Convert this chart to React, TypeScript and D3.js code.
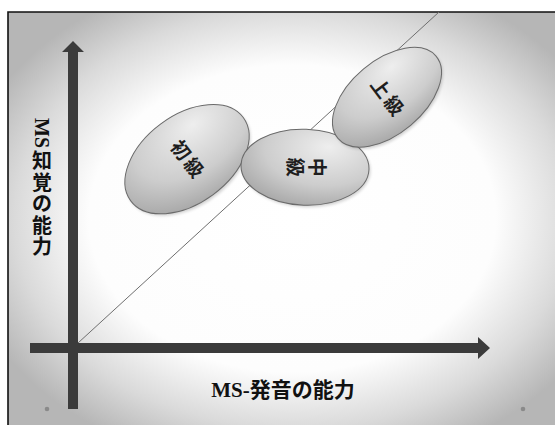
import React from "react";
import * as d3 from "d3";

// Skill levels shown as ovals on the perception / pronunciation plane
const levels = ["初級", "中級", "上級"];
const centerX = [28.5, 58.0, 78.5];
const centerY = [47.2, 45.2, 62.7];
const radiusMajor = [17.5, 16.0, 16.0];
const radiusMinor = [11.0, 9.5, 9.2];
const tiltDeg = [36.5, -2, 40];
const labelTurn = [53, 90, 53];
const labelVertical = [false, true, false];

// Reference diagonal (equal ability on both axes)
const diagX = [1.25, 91.5];
const diagY = [1.25, 84];

const xTitle = "MS-発音の能力";
const yTitleLatin = "MS";
const yTitleChars = ["知", "覚", "の", "能", "力"];

const W = 555;
const H = 425;
const FONT = "'Liberation Serif', 'Noto Sans CJK JP', serif";

export default function App() {
  // 4 px per unit on both axes so the ovals keep their shape
  const x = d3.scaleLinear().domain([0, 100]).range([73, 473]);
  const y = d3.scaleLinear().domain([0, 75]).range([348, 48]);
  const k = x(1) - x(0);

  const diagLine = d3
    .line<number>()
    .x((_, i) => x(diagX[i]))
    .y((_, i) => y(diagY[i]));

  const axisColor = "#3b3b3b";
  const x0 = x(0);
  const y0 = y(0);

  // vertical arrow
  const vArrow = [
    [x0 - 5, 409],
    [x0 - 5, 52],
    [x0 - 11, 52],
    [x0, 41],
    [x0 + 11, 52],
    [x0 + 5, 52],
    [x0 + 5, 409],
  ];
  // horizontal arrow
  const hArrow = [
    [30, y0 - 5],
    [478, y0 - 5],
    [478, y0 - 11],
    [490, y0],
    [478, y0 + 11],
    [478, y0 + 5],
    [30, y0 + 5],
  ];
  const poly = (pts: number[][]) => "M" + pts.map((p) => p.join(",")).join("L") + "Z";

  return (
    <svg
      width={W}
      height={H}
      style={{ position: "absolute", left: 0, top: 0, background: "#fff" }}
    >
      <defs>
        <radialGradient id="vignette" cx="0.52" cy="0.5" r="0.62">
          <stop offset="0" stopColor="#ffffff" />
          <stop offset="0.6" stopColor="#fdfdfd" />
          <stop offset="0.82" stopColor="#dadada" />
          <stop offset="1" stopColor="#b6b6b6" />
        </radialGradient>
        <radialGradient id="oval" cx="0.62" cy="0.3" r="0.85" fx="0.68" fy="0.22">
          <stop offset="0" stopColor="#eeeeee" />
          <stop offset="0.55" stopColor="#cdcdcd" />
          <stop offset="1" stopColor="#9c9c9c" />
        </radialGradient>
        <filter id="soft" x="-20%" y="-20%" width="140%" height="140%">
          <feGaussianBlur stdDeviation="1.5" />
        </filter>
      </defs>

      <rect x={8} y={12} width={W - 8} height={H - 12} fill="url(#vignette)" />
      <path d={`M8,${H}V12H${W}`} fill="none" stroke="#111" strokeWidth={1.6} />

      <path d={diagLine([0, 1]) || ""} fill="none" stroke="#6e6e6e" strokeWidth={1} />

      <path d={poly(vArrow)} fill={axisColor} />
      <path d={poly(hArrow)} fill={axisColor} />

      {levels.map((name, i) => {
        const cx = x(centerX[i]);
        const cy = y(centerY[i]);
        const chars = Array.from(name);
        const step = 22;
        return (
          <g key={name} transform={`translate(${cx},${cy})`}>
            <ellipse
              rx={radiusMajor[i] * k}
              ry={radiusMinor[i] * k}
              transform={`translate(1.5,2) rotate(${-tiltDeg[i]})`}
              fill="#000"
              opacity={0.18}
              filter="url(#soft)"
            />
            <ellipse
              rx={radiusMajor[i] * k}
              ry={radiusMinor[i] * k}
              transform={`rotate(${-tiltDeg[i]})`}
              fill="url(#oval)"
              stroke="#6a6a6a"
              strokeWidth={1}
            />
            <g transform={`rotate(${labelTurn[i]})`}>
              {chars.map((c, j) => {
                const off = (j - (chars.length - 1) / 2) * step;
                return (
                  <text
                    key={j}
                    x={labelVertical[i] ? 0 : off}
                    y={labelVertical[i] ? off : 0}
                    textAnchor="middle"
                    dominantBaseline="central"
                    fontFamily={FONT}
                    fontWeight={700}
                    fontSize={19}
                    fill="#1e1e1e"
                  >
                    {c}
                  </text>
                );
              })}
            </g>
          </g>
        );
      })}

      {/* x-axis title */}
      <text
        x={283}
        y={390}
        textAnchor="middle"
        dominantBaseline="central"
        fontFamily={FONT}
        fontWeight={700}
        fontSize={21}
        fill="#111"
      >
        {xTitle}
      </text>

      {/* y-axis title, written vertically */}
      <g>
        <text
          transform={`translate(42,133) rotate(90)`}
          textAnchor="middle"
          dominantBaseline="central"
          fontFamily={FONT}
          fontWeight={700}
          fontSize={20}
          fill="#111"
        >
          {yTitleLatin}
        </text>
        {yTitleChars.map((c, j) => (
          <text
            key={j}
            x={42}
            y={161 + j * 21.5}
            textAnchor="middle"
            dominantBaseline="central"
            fontFamily={FONT}
            fontWeight={700}
            fontSize={20}
            fill="#111"
          >
            {c}
          </text>
        ))}
      </g>

      <circle cx={47} cy={409} r={2.3} fill="#8a8a8a" />
      <circle cx={523} cy={409} r={2.3} fill="#8a8a8a" />
    </svg>
  );
}
